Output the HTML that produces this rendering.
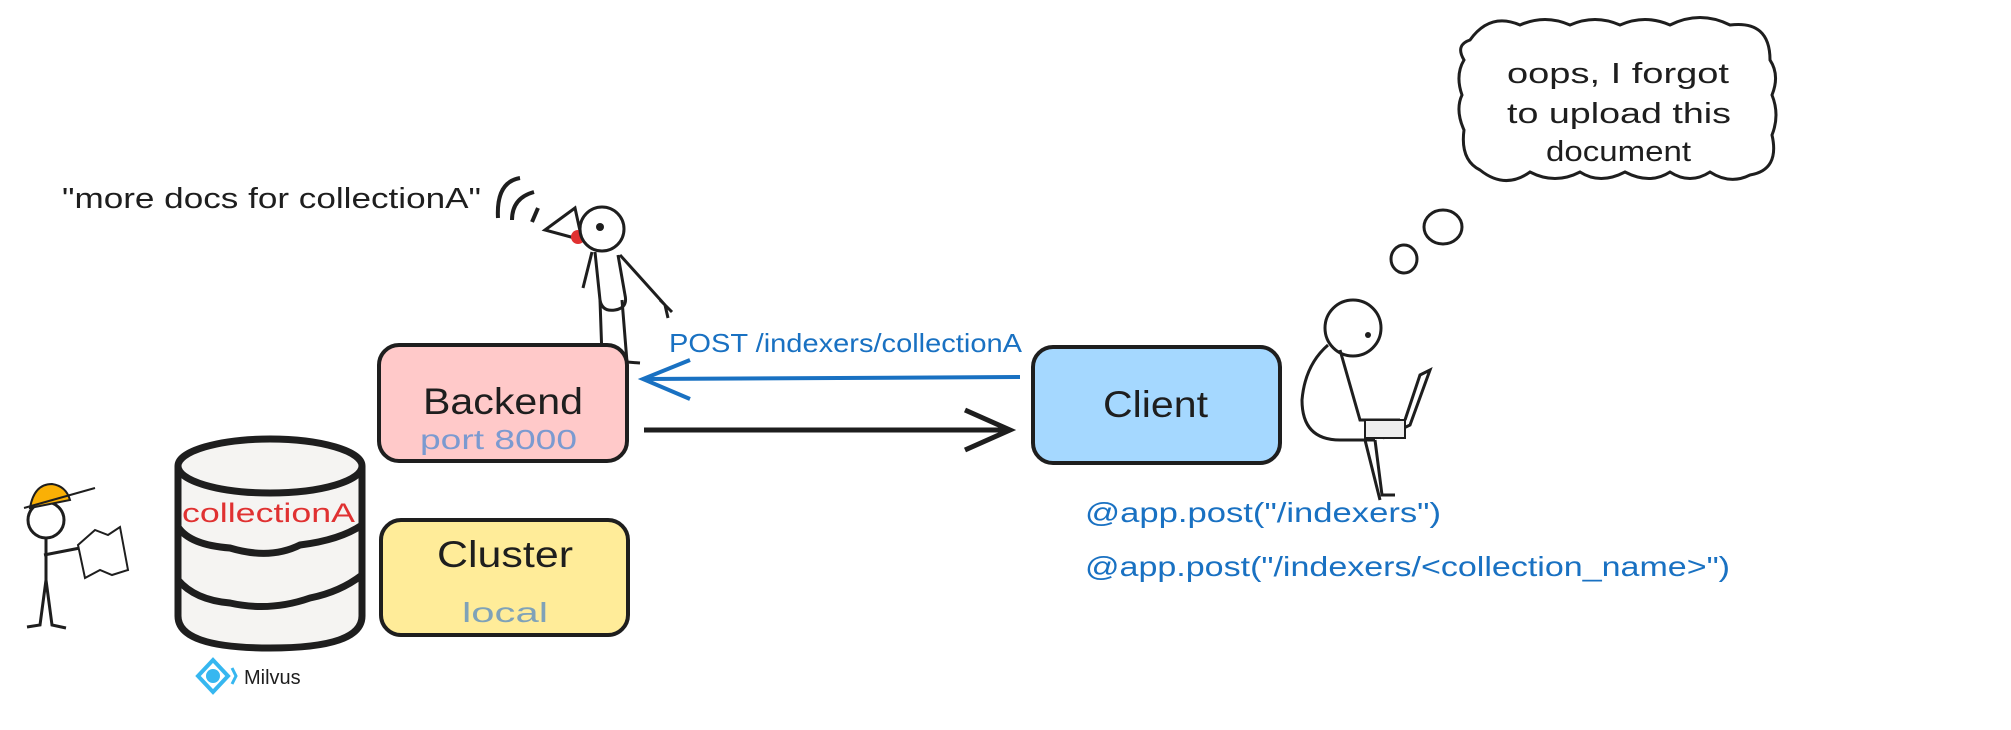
<!DOCTYPE html>
<html><head><meta charset="utf-8"><style>
html,body{margin:0;padding:0;background:#fff;}
svg{display:block;}
text{font-family:"Liberation Sans",sans-serif;}
</style></head><body>
<svg width="2011" height="730" viewBox="0 0 2011 730" xmlns="http://www.w3.org/2000/svg">
<rect width="2011" height="730" fill="#fff"/>
<text x="62" y="208" font-size="29" fill="#1e1e1e" textLength="419" lengthAdjust="spacingAndGlyphs">"more docs for collectionA"</text>
<path d="M498 218 Q496 182 520 178" stroke="#1e1e1e" stroke-width="4" fill="none"/>
<path d="M512 220 Q512 198 534 192" stroke="#1e1e1e" stroke-width="4" fill="none"/>
<path d="M532 222 L538 208" stroke="#1e1e1e" stroke-width="4" fill="none"/>
<path d="M545 230 L575 208 L582 240 Z" fill="#fff" stroke="#1e1e1e" stroke-width="3"/>
<circle cx="578" cy="237" r="7" fill="#e03131"/>
<circle cx="602" cy="229" r="22" fill="#fff" stroke="#1e1e1e" stroke-width="3"/>
<circle cx="600" cy="227" r="4" fill="#1e1e1e"/>
<path d="M595 252 L600 300 Q602 312 615 310 Q628 308 625 295 L618 255" stroke="#1e1e1e" stroke-width="3" fill="none"/>
<path d="M600 300 L602 357 L590 358" stroke="#1e1e1e" stroke-width="3" fill="none"/>
<path d="M622 300 L627 362 L640 363" stroke="#1e1e1e" stroke-width="3" fill="none"/>
<path d="M620 255 L665 305 M660 300 L672 312 M665 305 L668 318" stroke="#1e1e1e" stroke-width="3" fill="none"/>
<path d="M592 252 L583 288" stroke="#1e1e1e" stroke-width="3" fill="none"/>
<rect x="379" y="345" width="248" height="116" rx="20" fill="#ffc9c9" stroke="#1e1e1e" stroke-width="4"/>
<text x="423" y="414" font-size="37" fill="#1e1e1e" textLength="160" lengthAdjust="spacingAndGlyphs">Backend</text>
<text x="420" y="449" font-size="28" fill="#7b9ad0" font-family="Liberation Mono, monospace" textLength="157" lengthAdjust="spacingAndGlyphs">port 8000</text>
<rect x="381" y="520" width="247" height="115" rx="20" fill="#ffec99" stroke="#1e1e1e" stroke-width="4"/>
<text x="437" y="567" font-size="37" fill="#1e1e1e" textLength="136" lengthAdjust="spacingAndGlyphs">Cluster</text>
<text x="462" y="622" font-size="28" fill="#7fa2b8" font-family="Liberation Mono, monospace" textLength="86" lengthAdjust="spacingAndGlyphs">local</text>
<path d="M178 466 L178 616 Q178 648 270 648 Q362 648 362 616 L362 466" fill="#f5f4f2" stroke="#1e1e1e" stroke-width="7"/>
<ellipse cx="270" cy="466" rx="92" ry="27" fill="#f5f4f2" stroke="#1e1e1e" stroke-width="7"/>
<path d="M178 527 Q190 545 230 548 Q270 560 300 545 Q340 540 362 525" stroke="#1e1e1e" stroke-width="7" fill="none"/>
<path d="M178 580 Q195 600 230 603 Q270 612 310 598 Q340 592 362 575" stroke="#1e1e1e" stroke-width="7" fill="none"/>
<text x="182" y="522" font-size="27" fill="#e03131" textLength="173" lengthAdjust="spacingAndGlyphs">collectionA</text>
<path d="M198 676 L213 660 L228 676 L213 692 Z" fill="none" stroke="#36b7f0" stroke-width="4"/>
<circle cx="213" cy="676" r="7" fill="#36b7f0"/>
<path d="M232 668 L236 676 L232 684" fill="none" stroke="#36b7f0" stroke-width="3"/>
<text x="244" y="684" font-size="20" fill="#1e1e1e">Milvus</text>
<circle cx="46" cy="520" r="18" fill="#fff" stroke="#1e1e1e" stroke-width="3"/>
<path d="M30 508 Q34 484 52 484 Q66 486 70 500 Z" fill="#fab005" stroke="#1e1e1e" stroke-width="2"/>
<path d="M24 508 L95 488" stroke="#1e1e1e" stroke-width="2"/>
<path d="M46 538 L46 580 M46 580 L40 625 L27 627 M46 580 L52 625 L66 628 M44 555 L80 548" stroke="#1e1e1e" stroke-width="3" fill="none"/>
<path d="M78 545 L95 530 L108 535 L120 527 L128 570 L112 575 L100 570 L85 578 Z" fill="#fff" stroke="#1e1e1e" stroke-width="2"/>
<line x1="1020" y1="377" x2="643" y2="379" stroke="#1971c2" stroke-width="4"/>
<path d="M690 360 L643 379 L690 399" stroke="#1971c2" stroke-width="4" fill="none"/>
<text x="669" y="352" font-size="26" fill="#1971c2" textLength="353" lengthAdjust="spacingAndGlyphs">POST /indexers/collectionA</text>
<line x1="644" y1="430" x2="1010" y2="430" stroke="#1e1e1e" stroke-width="5"/>
<path d="M965 410 L1010 430 L965 450" stroke="#1e1e1e" stroke-width="5" fill="none"/>
<rect x="1033" y="347" width="247" height="116" rx="20" fill="#a5d8ff" stroke="#1e1e1e" stroke-width="4"/>
<text x="1103" y="417" font-size="37" fill="#1e1e1e" textLength="105" lengthAdjust="spacingAndGlyphs">Client</text>
<text x="1085" y="522" font-size="28" fill="#1971c2" textLength="356" lengthAdjust="spacingAndGlyphs">@app.post("/indexers")</text>
<text x="1085" y="576" font-size="28" fill="#1971c2" textLength="645" lengthAdjust="spacingAndGlyphs">@app.post("/indexers/&lt;collection_name&gt;")</text>
<circle cx="1353" cy="328" r="28" fill="#fff" stroke="#1e1e1e" stroke-width="3"/>
<circle cx="1368" cy="335" r="3" fill="#1e1e1e"/>
<path d="M1328 345 Q1305 365 1302 400 Q1302 440 1340 440 L1375 440" stroke="#1e1e1e" stroke-width="3" fill="none"/>
<path d="M1340 350 L1360 420 L1400 420 M1375 440 L1382 495 L1395 495 M1365 440 L1380 500" stroke="#1e1e1e" stroke-width="3" fill="none"/>
<path d="M1383 438 L1410 425 L1430 370 L1420 375 L1405 420" fill="#fff" stroke="#1e1e1e" stroke-width="3"/>
<rect x="1365" y="420" width="40" height="18" fill="#eee" stroke="#1e1e1e" stroke-width="2"/>
<path d="M1470 40 Q1490 12 1520 25 Q1545 14 1570 25 Q1595 14 1620 25 Q1645 14 1670 25 Q1700 10 1730 25 Q1770 20 1770 60 Q1780 75 1772 95 Q1780 115 1772 135 Q1780 170 1750 175 Q1730 185 1710 172 Q1690 185 1670 172 Q1650 185 1625 172 Q1600 185 1580 172 Q1555 185 1530 172 Q1505 190 1480 170 Q1460 160 1464 130 Q1455 110 1462 95 Q1455 75 1464 60 Q1455 45 1470 40 Z" fill="#fff" stroke="#1e1e1e" stroke-width="3"/>
<text x="1507" y="83" font-size="29" fill="#1e1e1e" textLength="222" lengthAdjust="spacingAndGlyphs">oops, I forgot</text>
<text x="1507" y="123" font-size="29" fill="#1e1e1e" textLength="224" lengthAdjust="spacingAndGlyphs">to upload this</text>
<text x="1546" y="161" font-size="29" fill="#1e1e1e" textLength="145" lengthAdjust="spacingAndGlyphs">document</text>
<ellipse cx="1443" cy="227" rx="19" ry="17" fill="#fff" stroke="#1e1e1e" stroke-width="3"/>
<ellipse cx="1404" cy="259" rx="13" ry="14" fill="#fff" stroke="#1e1e1e" stroke-width="3"/>
</svg>
</body></html>
